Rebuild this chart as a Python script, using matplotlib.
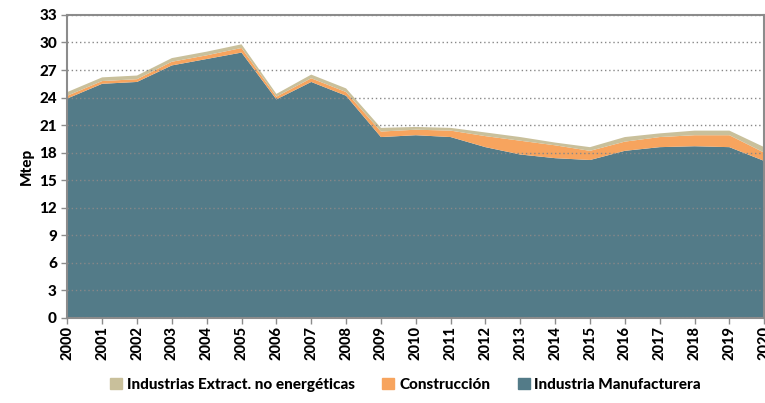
import matplotlib
matplotlib.use("Agg")
import matplotlib.pyplot as plt
from matplotlib.patches import Patch

# datos (Mtep)
years = list(range(2000, 2021))
manufacturera = [23.9, 25.5, 25.7, 27.5, 28.2, 28.9, 23.8, 25.7, 24.2, 19.7, 19.9,
                 19.7, 18.6, 17.8, 17.4, 17.2, 18.2, 18.6, 18.7, 18.6, 17.1]
construccion = [0.3, 0.3, 0.3, 0.4, 0.4, 0.5, 0.3, 0.4, 0.4, 0.6, 0.6,
                0.7, 1.2, 1.5, 1.4, 1.0, 1.0, 1.1, 1.2, 1.3, 0.9]
extract = [0.4, 0.4, 0.4, 0.4, 0.4, 0.4, 0.3, 0.4, 0.4, 0.4, 0.3,
           0.3, 0.4, 0.4, 0.3, 0.4, 0.5, 0.4, 0.5, 0.5, 0.6]
labels = ["Industria Manufacturera", "Construcción", "Industrias Extract. no energéticas"]
colors = ["#537b88", "#f7a45e", "#c9c09b"]

plt.rcParams["font.family"] = ["Lato", "DejaVu Sans"]

fig = plt.figure(figsize=(7.65, 4.03), dpi=100)
ax = fig.add_axes([0.088, 0.211, 0.911, 0.752])

ax.stackplot(years, manufacturera, construccion, extract, colors=colors, linewidth=0)

ax.set_xlim(2000, 2020)
ax.set_ylim(0, 33)
ax.set_yticks(range(0, 34, 3))
ax.set_xticks(years)
ax.set_xticklabels([str(y) for y in years], rotation=90, fontweight="black", fontsize=10.5)
for t in ax.get_yticklabels():
    t.set_fontweight("black")
    t.set_fontsize(11)
ax.set_ylabel("Mtep", fontweight="black", fontsize=11, labelpad=4)

ax.grid(axis="y", linestyle=(0, (1, 2)), color="#888888", linewidth=1)
ax.set_axisbelow(False)
for s in ax.spines.values():
    s.set_color("#8c8c8c")
    s.set_linewidth(1.5)
ax.tick_params(axis="both", colors="#8c8c8c", length=4, width=1, labelcolor="black")
ax.tick_params(axis="x", pad=2)

handles = [Patch(color=colors[2]), Patch(color=colors[1]), Patch(color=colors[0])]
fig.legend(handles, [labels[2], labels[1], labels[0]], loc="center", ncol=3,
           bbox_to_anchor=(0.53, 0.045), frameon=False, handlelength=0.8, handleheight=0.8,
           handletextpad=0.3, columnspacing=1.8, prop={"weight": "black", "size": 11})

fig.savefig("out.png", dpi=100)
